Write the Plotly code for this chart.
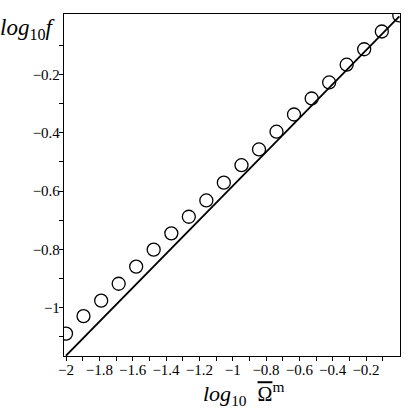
import plotly.graph_objects as go

# Data
log_omega = [-2.0, -1.895, -1.789, -1.684, -1.579, -1.474, -1.368, -1.263, -1.158, -1.053,
             -0.947, -0.842, -0.737, -0.632, -0.526, -0.421, -0.316, -0.211, -0.105, 0.0]
log_f = [-1.089, -1.029, -0.976, -0.918, -0.859, -0.801, -0.745, -0.688, -0.632, -0.571,
         -0.511, -0.457, -0.396, -0.337, -0.282, -0.227, -0.166, -0.113, -0.052, 0.003]
line_x = [-2.0, 0.0]
line_y = [-1.165, 0.0]

x_ticks = [-2, -1.8, -1.6, -1.4, -1.2, -1, -0.8, -0.6, -0.4, -0.2]
x_minor = [-1.9, -1.7, -1.5, -1.3, -1.1, -0.9, -0.7, -0.5, -0.3, -0.1]
y_ticks = [-1, -0.8, -0.6, -0.4, -0.2]
y_minor = [-1.1, -0.9, -0.7, -0.5, -0.3, -0.1]

FONT = "Liberation Serif"

fig = go.Figure()
fig.add_trace(go.Scatter(x=line_x, y=line_y, mode="lines",
                         line=dict(color="black", width=1.8), showlegend=False))
fig.add_trace(go.Scatter(x=log_omega, y=log_f, mode="markers",
                         marker=dict(symbol="circle-open", size=13, color="black",
                                     line=dict(width=1.3, color="black")),
                         showlegend=False))

axis_common = dict(showgrid=False, zeroline=False, showline=True, mirror=True,
                   linecolor="black", linewidth=1.3, ticks="outside", ticklen=4,
                   tickwidth=1.2, tickcolor="black", ticklabelstandoff=-4,
                   tickfont=dict(family=FONT, size=15, color="black"))

fig.update_xaxes(range=[-2.012, 0.004], tickmode="array", tickvals=x_ticks,
                 ticktext=[f"{v:g}".replace("-", "\u2212") for v in x_ticks],
                 minor=dict(tickmode="array", tickvals=x_minor, ticks="outside",
                            ticklen=4, tickcolor="black", tickwidth=1.2),
                 **axis_common)
fig.update_yaxes(range=[-1.166, 0.008], tickmode="array", tickvals=y_ticks,
                 ticktext=[f"{v:g}".replace("-", "\u2212") for v in y_ticks],
                 minor=dict(tickmode="array", tickvals=y_minor, ticks="outside",
                            ticklen=4, tickcolor="black", tickwidth=1.2),
                 **axis_common)

fig.add_annotation(text="<i>log</i><sub>10</sub><i>f</i>", xref="paper", yref="paper",
                   x=-0.02, y=0.955, xanchor="right", yanchor="middle", showarrow=False,
                   font=dict(family=FONT, size=23, color="black"))
fig.add_annotation(text="<i>log</i><sub>10</sub>\u00a0\u00a0"
                        "<span style=\"text-decoration:overline;font-size:20px\">\u03a9</span>"
                        "<sup>m</sup>",
                   xref="paper", yref="paper",
                   x=0.535, y=-0.11, xanchor="center", yanchor="middle", showarrow=False,
                   font=dict(family=FONT, size=22, color="black"))

fig.update_layout(width=415, height=414, margin=dict(l=64, r=15, t=14, b=58),
                  paper_bgcolor="white", plot_bgcolor="white",
                  font=dict(family=FONT, color="black"))

fig.write_html("out.html", config={"displayModeBar": False},
               post_script="document.body.style.margin='0';document.body.style.overflow='hidden';")
